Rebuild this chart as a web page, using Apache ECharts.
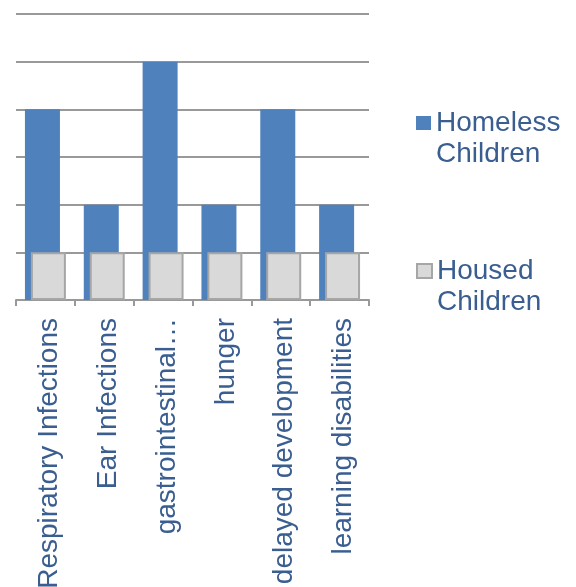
<!DOCTYPE html>
<html lang="en">
<head>
    <meta charset="UTF-8">
    <title>Homeless vs Housed Children</title>
    <script type="text/javascript" src="https://cdn.jsdelivr.net/npm/echarts@6/dist/echarts.min.js"></script>
    <style>
        html, body { margin: 0; padding: 0; background: #fff; }
    </style>
</head>
<body>
<div id="chart" style="width: 576px;height: 587px"></div>
<script type="text/javascript">
    var categories = ['Respiratory Infections', 'Ear Infections', 'gastrointestinal…', 'hunger', 'delayed development', 'learning disabilities'];
    var homeless = [4, 2, 5, 2, 4, 2];
    var housed = [1, 1, 1, 1, 1, 1];

    var textBlue = '#3A5E90';
    var lh = 31;

    var myChart = echarts.init(document.getElementById('chart'));

    // one legend per series, first text line level with the icon
    function legendAt(name, top) {
        return {
            data: [name],
            left: 411,
            top: top,
            itemWidth: 15,
            itemHeight: 14,
            icon: 'rect',
            selectedMode: false,
            formatter: function (n) { return ' \n' + n.replace(' ', '\n'); },
            textStyle: {
                color: textBlue,
                fontSize: 28,
                fontFamily: 'Liberation Sans, Arial',
                lineHeight: lh
            }
        };
    }

    var option = {
        animation: false,
        legend: [
            legendAt('Homeless Children', 118 - 1.5 * lh),
            legendAt('Housed Children', 266 - 1.5 * lh)
        ],
        grid: {
            left: 16,
            right: 207,
            top: 14,
            bottom: 287,
            outerBoundsMode: 'none'
        },
        xAxis: {
            type: 'category',
            data: categories,
            axisLine: { lineStyle: { color: '#999', width: 2 } },
            axisTick: { show: true, length: 6, lineStyle: { color: '#999', width: 2 } },
            axisLabel: {
                rotate: 90,
                margin: 18,
                verticalAlign: 'top',
                lineHeight: 8,
                color: textBlue,
                fontSize: 28,
                fontFamily: 'Liberation Sans, Arial',
                interval: 0
            }
        },
        yAxis: {
            type: 'value',
            min: 0,
            max: 6,
            interval: 1,
            axisLabel: { show: false },
            axisLine: { show: false },
            axisTick: { show: false },
            splitLine: { lineStyle: { color: '#999', width: 2 } }
        },
        series: [
            {
                name: 'Homeless Children',
                type: 'bar',
                data: homeless,
                barWidth: 35,
                barGap: '-83%',
                itemStyle: { color: '#4F81BD' }
            },
            {
                name: 'Housed Children',
                type: 'bar',
                data: housed,
                barWidth: 35,
                itemStyle: { color: '#D9D9D9', borderColor: '#A6A6A6', borderWidth: 2 }
            }
        ]
    };

    option && myChart.setOption(option);
</script>
</body>
</html>
